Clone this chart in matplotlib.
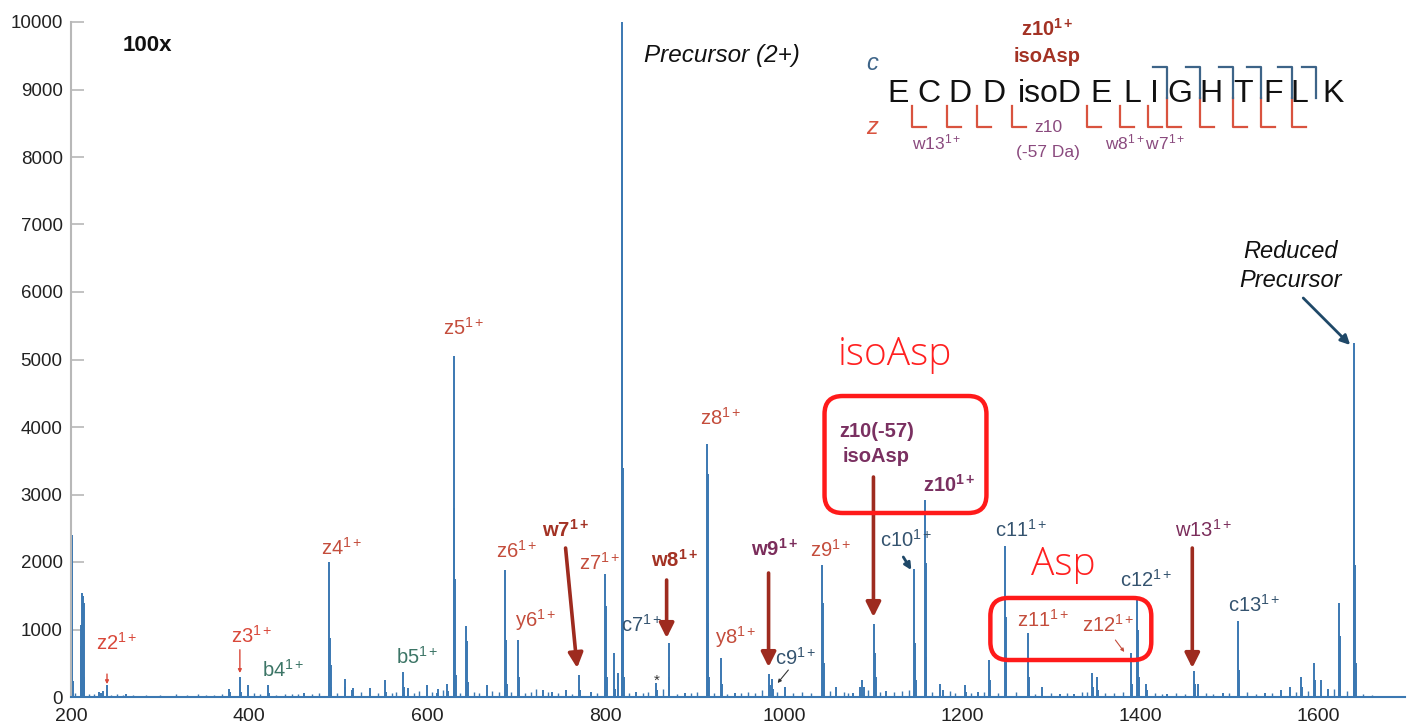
import matplotlib
matplotlib.use("Agg")
import matplotlib.pyplot as plt
from matplotlib.patches import FancyBboxPatch
from matplotlib.lines import Line2D
from matplotlib.transforms import IdentityTransform

plt.rcParams['font.family'] = ['Liberation Sans', 'DejaVu Sans']
plt.rcParams['mathtext.fontset'] = 'custom'
plt.rcParams['mathtext.rm'] = 'Liberation Sans'
plt.rcParams['mathtext.it'] = 'Liberation Sans:italic'
plt.rcParams['mathtext.bf'] = 'Liberation Sans:bold'

# ---------------- data ----------------
peak_mz = [200.6, 201.2, 201.8, 211.0, 211.5, 212.3, 213.0, 214.2, 214.8,
           231.0, 234.0, 236.0, 240.0, 262.0,
           377.5, 378.5, 389.5, 390.5, 398.6, 421.0, 422.0, 462.0,
           490.0, 490.7, 491.5, 492.3, 507.0, 508.0, 515.0, 516.0, 535.0,
           552.0, 553.0, 572.5, 573.5, 578.0, 599.0, 611.0, 612.0, 622.0, 623.5,
           629.6, 630.3, 631.0, 631.8, 643.5, 644.2, 645.0, 666.5,
           687.5, 688.2, 689.0, 701.6, 702.3, 730.0, 740.0, 756.0,
           770.4, 771.0, 783.0, 799.5, 800.2, 801.0, 809.0, 810.0, 813.8,
           817.8, 818.3, 818.8, 819.3, 819.8, 820.5,
           834.0, 856.8, 857.5, 870.6, 871.3, 889.0,
           914.0, 914.6, 915.3, 916.0, 929.3, 930.0, 945.0,
           983.5, 984.5, 986.5, 987.5, 1001.5,
           1043.3, 1044.0, 1044.7, 1059.0, 1078.0, 1085.0, 1088.0, 1089.5,
           1101.6, 1102.3, 1103.0, 1115.0,
           1146.5, 1147.2, 1148.0, 1158.5, 1159.2, 1160.0, 1175.3, 1178.0,
           1203.0, 1204.0, 1218.0, 1230.6, 1231.3,
           1248.2, 1248.9, 1249.6, 1274.4, 1275.1, 1290.0, 1310.0, 1325.0,
           1346.0, 1347.0, 1351.7, 1352.5, 1390.0, 1391.0,
           1396.6, 1397.3, 1398.1, 1406.7, 1407.5, 1430.0,
           1460.5, 1461.2, 1465.0, 1493.0, 1510.0, 1510.7, 1540.0,
           1558.0, 1567.8, 1580.0, 1581.0, 1595.0, 1596.0, 1603.0, 1611.0,
           1623.0, 1623.7, 1624.5, 1639.5, 1640.2, 1640.9, 1641.6]
peak_int = [2400, 2350, 230, 1070, 750, 1540, 1500, 1390, 300,
            80, 60, 90, 180, 40,
            120, 80, 300, 80, 180, 180, 60, 60,
            2000, 870, 480, 150, 260, 150, 100, 140, 130,
            250, 80, 370, 150, 130, 180, 60, 120, 200, 90,
            5050, 2800, 1750, 330, 1050, 830, 220, 180,
            1880, 850, 200, 850, 300, 100, 70, 100,
            320, 100, 80, 1820, 1350, 300, 650, 120, 360,
            6000, 10000, 8400, 3400, 1000, 300,
            80, 210, 100, 800, 300, 60,
            3750, 3300, 1100, 300, 580, 200, 60,
            340, 180, 270, 120, 150,
            1960, 1390, 500, 150, 60, 150, 250, 150,
            1080, 650, 300, 90,
            1890, 800, 250, 2920, 1980, 600, 200, 100,
            180, 80, 70, 550, 250,
            2230, 1190, 500, 950, 300, 150, 40, 50,
            350, 150, 300, 100, 650, 200,
            1440, 1000, 300, 200, 100, 40,
            380, 200, 200, 60, 1120, 400, 60,
            100, 150, 300, 150, 510, 250, 250, 120,
            1390, 900, 250, 5250, 4100, 1950, 500]

noise_mz = [205, 220, 226, 245, 252, 258, 270, 284, 300, 318, 330, 342, 352, 360,
            370, 405, 412, 430, 440, 448, 455, 470, 478, 498, 525, 545, 560, 565,
            585, 590, 605, 617, 636, 652, 658, 672, 680, 694, 710, 716, 722, 735,
            746, 762, 790, 826, 842, 848, 864, 880, 896, 902, 922, 936, 952, 960,
            968, 975, 992, 1010, 1020, 1030, 1052, 1068, 1072, 1094, 1108, 1124,
            1132, 1140, 1166, 1186, 1192, 1210, 1224, 1240, 1260, 1282, 1300,
            1318, 1334, 1340, 1360, 1370, 1380, 1416, 1424, 1440, 1450, 1474,
            1482, 1500, 1520, 1530, 1548, 1575, 1588, 1617, 1632, 1650, 1660]
noise_int = [60, 40, 50, 30, 45, 30, 35, 25, 30, 40, 25, 45, 30, 35,
             50, 60, 40, 35, 45, 40, 50, 45, 60, 55, 70, 60, 55, 80,
             60, 90, 70, 110, 60, 70, 60, 90, 80, 70, 60, 80, 120, 70,
             60, 50, 60, 60, 60, 80, 120, 50, 60, 70, 60, 50, 60, 80,
             60, 110, 70, 60, 80, 60, 90, 70, 60, 110, 70, 80,
             90, 100, 70, 90, 60, 60, 80, 60, 70, 50, 60,
             60, 70, 80, 60, 60, 80, 60, 50, 60, 50, 60,
             50, 60, 70, 50, 60, 80, 90, 120, 90, 40, 30]

y_ticks = [0, 1000, 2000, 3000, 4000, 5000, 6000, 7000, 8000, 9000, 10000]
x_ticks = [200, 400, 600, 800, 1000, 1200, 1400, 1600]

# ---------------- figure ----------------
W, H = 1407, 724
fig = plt.figure(figsize=(W / 100, H / 100), dpi=100)
ax = fig.add_axes([71 / W, 27 / H, (1405 - 71) / W, (697 - 22) / H])
ax.set_xlim(200, 1697)
ax.set_ylim(0, 10000)

BLUE = '#3b78b2'
ax.vlines(noise_mz, 0, noise_int, color=BLUE, lw=1.0)
ax.vlines(peak_mz, 0, peak_int, color=BLUE, lw=1.4)

for s in ['top', 'right']:
    ax.spines[s].set_visible(False)
ax.spines['left'].set_color('#b8b8b8')
ax.spines['left'].set_linewidth(1.5)
ax.spines['bottom'].set_color(BLUE)
ax.spines['bottom'].set_linewidth(1.5)

ax.set_yticks(y_ticks)
ax.set_xticks(x_ticks)
ax.tick_params(axis='y', direction='in', length=9, width=1.2, color='#b8b8b8',
               labelsize=13.5, labelcolor='#222222', pad=6)
ax.tick_params(axis='x', length=0, labelsize=14, labelcolor='#222222', pad=8)

# ---------------- annotations ----------------
ZC = '#c44d3c'
WR = '#a33224'
WP = '#7b2d5b'
CC = '#34536f'
BC = '#3c7566'
AR = '#9e2b1f'
FS = 14.5


def lab(txt, x, y, color, bold=False, size=FS):
    if bold:
        s = txt + r'$^{\mathbf{1+}}$'
    else:
        s = txt + r'$^{\mathrm{1+}}$'
    ax.text(x, y, s, color=color, fontsize=size, ha='center', va='center',
            fontweight='bold' if bold else 'normal')


lab('z2', 251.6, 800, '#d9483a')
lab('z3', 403, 904, '#d9483a')
lab('b4', 437.7, 400, BC)
lab('z4', 504, 2207, ZC)
lab('b5', 588, 593, BC)
lab('z5', 640.7, 5467, ZC)
lab('z6', 700, 2163, ZC)
lab('y6', 721.5, 1140, ZC)
lab('w7', 755, 2474, WR, bold=True)
lab('z7', 793, 1985, ZC)
lab('c7', 840, 1067, CC)
lab('w8', 877, 2030, WR, bold=True)
lab('z8', 929, 4133, ZC)
lab('y8', 945.8, 890, ZC)
lab('w9', 989.5, 2193, WP, bold=True)
lab('c9', 1013, 578, CC)
lab('z9', 1052, 2178, ZC)
lab('c10', 1137.5, 2326, CC)
lab('z10', 1185.8, 3140, '#7a3061', bold=True)
lab('c11', 1266.5, 2474, CC)
lab('c12', 1406.7, 1733, CC)
lab('c13', 1527.8, 1363, CC)
lab('z11', 1291, 1140, ZC)
lab('z12', 1364, 1067, ZC)
lab('w13', 1470.6, 2474, WP)

ax.text(857, 240, '*', color='#333333', fontsize=11, ha='center', va='center')

ax.text(1104, 3926, 'z10(-57)', color='#7a3061', fontsize=FS, fontweight='bold',
        ha='center', va='center')
ax.text(1104, 3570, 'isoAsp', color='#7a3061', fontsize=FS, fontweight='bold',
        ha='center', va='center')

ax.text(1125, 5067, 'isoAsp', color='#ff2020', fontsize=28, family='Open Sans',
        fontweight='light', ha='center', va='center')
ax.text(1313.6, 1956, 'Asp', color='#ff2020', fontsize=28, family='Open Sans',
        fontweight='light', ha='center', va='center')

ax.text(258, 9659, '100x', fontsize=16, fontweight='bold', ha='left', va='center',
        color='#111111')
ax.text(931, 9511, 'Precursor (2+)', fontsize=17.5, style='italic', ha='center',
        va='center', color='#111111')
ax.text(1569, 6607, 'Reduced', fontsize=17, style='italic', ha='center',
        va='center', color='#111111')
ax.text(1569, 6163, 'Precursor', fontsize=17, style='italic', ha='center',
        va='center', color='#111111')


def arrow(x0, y0, x1, y1, color, lw, ms):
    ax.annotate('', xy=(x1, y1), xytext=(x0, y0),
                arrowprops=dict(arrowstyle='-|>', color=color, lw=lw,
                                mutation_scale=ms, shrinkA=0, shrinkB=0))


arrow(755, 2207, 768, 430, AR, 2.6, 22)
arrow(868.4, 1733, 868.4, 874, AR, 2.6, 22)
arrow(982.8, 1837, 982.8, 444, AR, 2.6, 22)
arrow(1100.5, 3259, 1100.5, 1185, AR, 2.6, 22)
arrow(1458.3, 2207, 1458.3, 430, AR, 2.6, 22)
arrow(240.4, 340, 240.4, 190, '#d9483a', 1.0, 5)
arrow(389.5, 700, 389.5, 355, '#d9483a', 1.0, 5)
arrow(1134, 2074, 1143, 1881, '#1f4868', 2.0, 10)
arrow(1005, 400, 993, 207, '#333333', 0.8, 5)
arrow(1372, 844, 1382, 667, '#c44d3c', 0.8, 5)
arrow(1582.8, 5911, 1635.5, 5215, '#1f4868', 2.0, 14)


# red rounded boxes (positions from data coords, drawn in pixels)
def rbox(x0, y0, x1, y1):
    p0 = ax.transData.transform((x0, y0))
    p1 = ax.transData.transform((x1, y1))
    r = 18
    patch = FancyBboxPatch((p0[0] + r, p0[1] + r), p1[0] - p0[0] - 2 * r,
                           p1[1] - p0[1] - 2 * r,
                           boxstyle='round,pad=%d,rounding_size=%d' % (r, r),
                           transform=IdentityTransform(), fill=False,
                           edgecolor='#ff1a1a', lw=3.2, zorder=5)
    fig.patches.append(patch)


rbox(1045.6, 2726, 1227.3, 4459)
rbox(1231.7, 548, 1412.3, 1467)


# ---------------- peptide diagram (top right) ----------------
def F(px, py):
    return px / W, 1 - py / H


letters = ['E', 'C', 'D', 'D', 'isoD', 'E', 'L', 'I', 'G', 'H', 'T', 'F', 'L', 'K']
letter_x = [898, 929, 960, 994, 1050, 1101, 1132, 1154, 1180, 1211, 1243, 1273, 1299, 1333]
for t, x in zip(letters, letter_x):
    fig.text(*F(x, 94), t, fontsize=23, ha='center', va='center', color='#111111')

RED = '#d9533f'
DB = '#3d6488'
red_cuts = [912, 946.5, 977, 1012, 1087, 1120, 1148, 1167, 1200, 1233, 1261, 1292]
blue_cuts = [1167, 1200, 1233, 1261, 1292, 1316]
for x in red_cuts:
    top = 98 if x in blue_cuts else 106
    fig.add_artist(Line2D([x / W, x / W, (x + 14) / W],
                          [1 - top / H, 1 - 127 / H, 1 - 127 / H],
                          transform=fig.transFigure, color=RED, lw=1.6))
for x in blue_cuts:
    fig.add_artist(Line2D([(x - 14) / W, x / W, x / W],
                          [1 - 67 / H, 1 - 67 / H, 1 - 98 / H],
                          transform=fig.transFigure, color=DB, lw=1.6))

fig.text(*F(872, 63), 'c', fontsize=17, style='italic', color=DB, ha='center', va='center')
fig.text(*F(872, 127), 'z', fontsize=17, style='italic', color=RED, ha='center', va='center')
fig.text(*F(1047, 29), r'z10$^{\mathbf{1+}}$', fontsize=14.5, fontweight='bold',
         color='#a33224', ha='center', va='center')
fig.text(*F(1047, 56), 'isoAsp', fontsize=14.5, fontweight='bold',
         color='#a33224', ha='center', va='center')
PUR = '#8a4a7e'
fig.text(*F(937, 142), r'w13$^{\mathrm{1+}}$', fontsize=12.5, color=PUR, ha='center', va='center')
fig.text(*F(1048, 127), 'z10', fontsize=12.5, color=PUR, ha='center', va='center')
fig.text(*F(1048, 152), '(-57 Da)', fontsize=12.5, color=PUR, ha='center', va='center')
fig.text(*F(1145, 142), r'w8$^{\mathrm{1+}}$w7$^{\mathrm{1+}}$', fontsize=12.5, color=PUR,
         ha='center', va='center')

fig.savefig('out.png', dpi=100)
